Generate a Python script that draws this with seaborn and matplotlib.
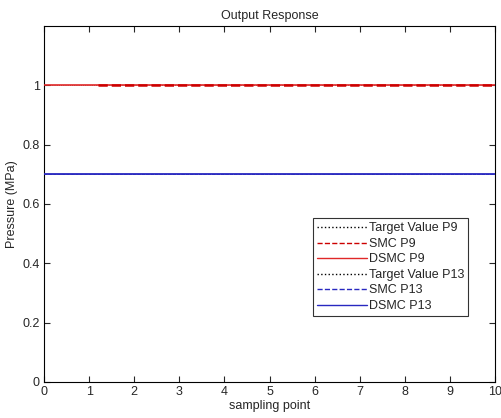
import matplotlib
matplotlib.use("Agg")
import matplotlib.pyplot as plt
import seaborn as sns
import pandas as pd

sns.set_style("white")
plt.rcParams['font.family'] = ['Liberation Sans', 'DejaVu Sans']

# data
x_full = [0, 10]
x_smc = [1.2, 10]
target_p9 = [1.0, 1.0]
smc_p9 = [1.0, 1.0]
dsmc_p9 = [1.0, 1.0]
target_p13 = [0.7, 0.7]
smc_p13 = [0.7, 0.7]
dsmc_p13 = [0.7, 0.7]
xticks = list(range(0, 11))
yticks = [0, 0.2, 0.4, 0.6, 0.8, 1.0]
ytick_labels = ["0", "0.2", "0.4", "0.6", "0.8", "1"]

fig = plt.figure(figsize=(5.02, 4.18), dpi=100)
ax = fig.add_axes([44/502, 36/418, 451/502, 356/418])

# name, x, y, color, style, width, zorder
series = [
    ("Target Value P9", x_full, target_p9, "black", ":", 0.5, 1),
    ("SMC P9", x_smc, smc_p9, "#cc0000", "--", 1.8, 4),
    ("DSMC P9", x_full, dsmc_p9, "#e02828", "-", 1.2, 3),
    ("Target Value P13", x_full, target_p13, "black", ":", 0.5, 1),
    ("SMC P13", x_full, smc_p13, "#2828c0", "--", 0.6, 2),
    ("DSMC P13", x_full, dsmc_p13, "#2828c0", "-", 1.3, 3),
]
for name, xs, ys, c, ls, lw, z in series:
    df = pd.DataFrame({"x": xs, "y": ys})
    sns.lineplot(data=df, x="x", y="y", ax=ax, color=c, linestyle=ls,
                 linewidth=lw, label=name, zorder=z)

ax.set_xlim(0, 10)
ax.set_ylim(0, 1.2)
ax.set_xticks(xticks)
ax.set_xticklabels([str(t) for t in xticks])
ax.set_yticks(yticks)
ax.set_yticklabels(ytick_labels)
ax.tick_params(direction="in", length=4, width=0.8, labelsize=9,
               top=True, right=True, bottom=True, left=True, pad=3)
for s in ax.spines.values():
    s.set_linewidth(0.8)
    s.set_color("black")
ax.set_xlabel("sampling point", fontsize=9, labelpad=1)
ax.set_ylabel("Pressure (MPa)", fontsize=9, labelpad=3)
ax.set_title("Output Response", fontsize=9, pad=5)

leg = ax.legend(loc="upper left", bbox_to_anchor=((313-44)/451, (382-218)/356),
                fontsize=9, frameon=True, fancybox=False, borderpad=0.35,
                labelspacing=0.28, handlelength=4.0, handletextpad=0.1,
                borderaxespad=0)
for h in leg.get_lines():
    h.set_linewidth(1.0)
leg.get_frame().set_edgecolor("black")
leg.get_frame().set_linewidth(0.8)

fig.savefig("out.png", dpi=100)
